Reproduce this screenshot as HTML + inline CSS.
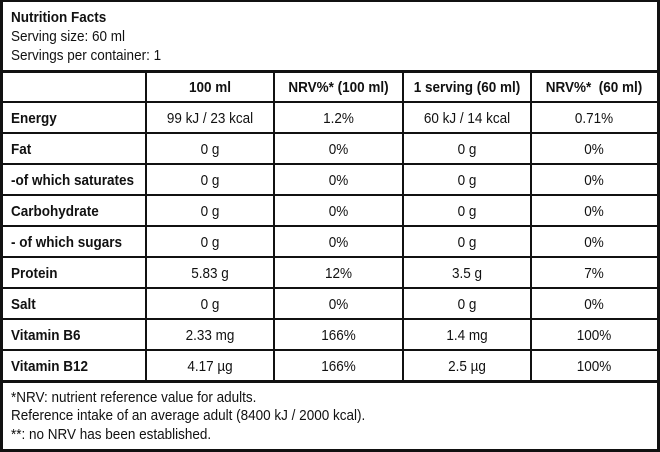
<!DOCTYPE html>
<html><head><meta charset="utf-8"><style>
body{margin:0;width:660px;height:452px;background:#fff;position:relative;overflow:hidden;font-family:"Liberation Sans Narrow","Liberation Sans",sans-serif;color:#111;font-size:15px}
.h{position:absolute;left:0;width:660px;height:2px;background:#111}
.v{position:absolute;width:2px;background:#111}
.t{position:absolute;line-height:16px;white-space:nowrap;transform:scaleX(0.9);transform-origin:0 50%}
.c{position:absolute;text-align:center;line-height:16px;white-space:nowrap;transform:scaleX(0.9);transform-origin:50% 50%}
b{font-weight:bold}
</style></head><body>
<div style="position:absolute;left:0;top:0;width:654px;height:447px;border:3px solid #111;border-top-width:2px;border-bottom-width:3px"></div>
<div class="t" style="left:11px;top:10px"><b>Nutrition Facts</b></div>
<div class="t" style="left:11px;top:29px">Serving size: 60 ml</div>
<div class="t" style="left:11px;top:48px">Servings per container: 1</div>
<div class="h" style="top:70px;height:3px"></div>
<div class="h" style="top:101px"></div>
<div class="h" style="top:132px"></div>
<div class="h" style="top:163px"></div>
<div class="h" style="top:194px"></div>
<div class="h" style="top:225px"></div>
<div class="h" style="top:256px"></div>
<div class="h" style="top:287px"></div>
<div class="h" style="top:318px"></div>
<div class="h" style="top:349px"></div>
<div class="h" style="top:380px;height:3px"></div>
<div class="v" style="left:145px;top:71px;height:311px"></div>
<div class="v" style="left:273px;top:71px;height:311px"></div>
<div class="v" style="left:402px;top:71px;height:311px"></div>
<div class="v" style="left:530px;top:71px;height:311px"></div>
<div id="rows"></div>
<div class="t" style="left:11px;top:390px">*NRV: nutrient reference value for adults.</div>
<div class="t" style="left:11px;top:408px">Reference intake of an average adult (8400 kJ / 2000 kcal).</div>
<div class="t" style="left:11px;top:427px">**: no NRV has been established.</div>
<script>
var d=[["","100 ml","NRV%* (100 ml)","1 serving (60 ml)","NRV%*&nbsp; (60 ml)"],
["Energy","99 kJ / 23 kcal","1.2%","60 kJ / 14 kcal","0.71%"],
["Fat","0 g","0%","0 g","0%"],
["-of which saturates","0 g","0%","0 g","0%"],
["Carbohydrate","0 g","0%","0 g","0%"],
["- of which sugars","0 g","0%","0 g","0%"],
["Protein","5.83 g","12%","3.5 g","7%"],
["Salt","0 g","0%","0 g","0%"],
["Vitamin B6","2.33 mg","166%","1.4 mg","100%"],
["Vitamin B12","4.17 µg","166%","2.5 µg","100%"]];
var xs=[[147,273],[275,402],[404,530],[532,656]],h="";
d.forEach(function(r,i){var y=80+i*31;
 if(i>0)h+='<div class="t" style="left:11px;top:'+y+'px"><b>'+r[0]+'</b></div>';
 for(var j=1;j<5;j++){var c=r[j];if(i==0)c='<b>'+c+'</b>';
 h+='<div class="c" style="left:'+xs[j-1][0]+'px;width:'+(xs[j-1][1]-xs[j-1][0])+'px;top:'+y+'px">'+c+'</div>';}
});
document.getElementById('rows').innerHTML=h;
</script>
</body></html>
